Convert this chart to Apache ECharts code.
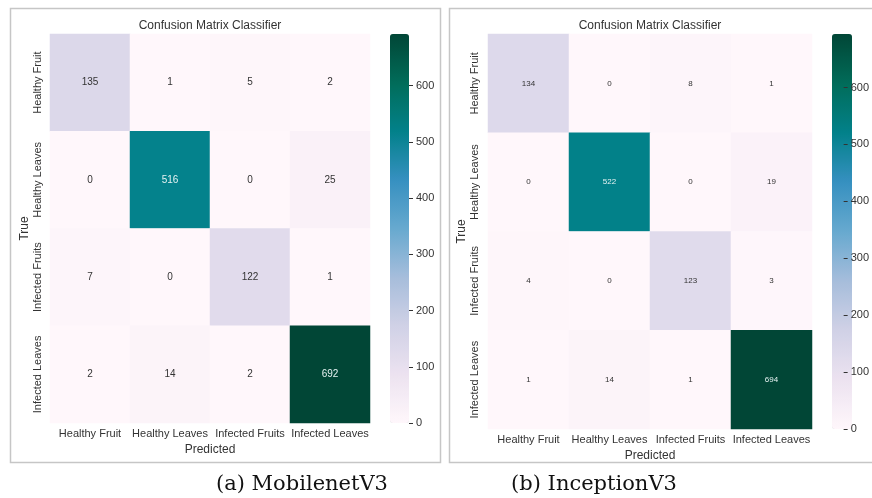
<!DOCTYPE html>
<html>
<head>
<meta charset="utf-8">
<script src="https://cdn.jsdelivr.net/npm/echarts@6/dist/echarts.min.js"></script>
<style>
html,body{margin:0;padding:0;background:#fff;}
#chart{width:872px;height:498px;}
</style>
</head>
<body>
<div id="chart"></div>
<script>
// ---- data ----
var categories = ['Healthy Fruit', 'Healthy Leaves', 'Infected Fruits', 'Infected Leaves'];
// rows = true class, cols = predicted class
var mobilenetRow0 = [135, 1, 5, 2];
var mobilenetRow1 = [0, 516, 0, 25];
var mobilenetRow2 = [7, 0, 122, 1];
var mobilenetRow3 = [2, 14, 2, 692];
var inceptionRow0 = [134, 0, 8, 1];
var inceptionRow1 = [0, 522, 0, 19];
var inceptionRow2 = [4, 0, 123, 3];
var inceptionRow3 = [1, 14, 1, 694];
var colorbarTicks = [0, 100, 200, 300, 400, 500, 600];
var panelTitle = 'Confusion Matrix Classifier';
var captions = ['(a) MobilenetV3', '(b) InceptionV3'];

var mobilenet = [mobilenetRow0, mobilenetRow1, mobilenetRow2, mobilenetRow3];
var inception = [inceptionRow0, inceptionRow1, inceptionRow2, inceptionRow3];

var PuBuGn = ['#fff7fb','#ece2f0','#d0d1e6','#a6bddb','#67a9cf','#3690c0','#02818a','#016c59','#014636'];
var FONT = 'Liberation Sans';
var TXT = '#333333';

function maxOf(m){ var v = 0; m.forEach(function(r){ r.forEach(function(x){ if (x > v) v = x; }); }); return v; }

function toData(m, mx){
  var out = [];
  for (var r = 0; r < m.length; r++) {
    for (var c = 0; c < m[r].length; c++) {
      var v = m[r][c];
      out.push({ value: [c, r, v], label: { color: v / mx > 0.6 ? '#e6f2f2' : '#333333' } });
    }
  }
  return out;
}

var mxA = maxOf(mobilenet), mxB = maxOf(inception);

var panels = [
  { grid: {left: 50, top: 34, width: 320, height: 389}, cb: {left: 390, top: 34, width: 19, height: 389},
    mx: mxA, data: toData(mobilenet, mxA), fs: 10, yLabelMargin: 7, yNameGap: 19, xNameGap: 18 },
  { grid: {left: 488, top: 34, width: 324, height: 395}, cb: {left: 832, top: 34, width: 20, height: 395},
    mx: mxB, data: toData(inception, mxB), fs: 8, yLabelMargin: 8, yNameGap: 17, xNameGap: 16 }
];

var option = {
  backgroundColor: '#ffffff',
  animation: false,
  textStyle: { fontFamily: FONT },
  grid: [], xAxis: [], yAxis: [], series: [], visualMap: [], graphic: []
};

panels.forEach(function(p, i){
  var gi = i * 2;
  option.grid.push(Object.assign({ containLabel: false }, p.grid));
  option.grid.push(Object.assign({ containLabel: false, show: false }, p.cb));
  // heatmap axes
  option.xAxis.push({
    type: 'category', data: categories, gridIndex: gi, position: 'bottom',
    axisLine: {show: false}, axisTick: {show: false}, splitLine: {show: false}, splitArea: {show: false},
    axisLabel: { color: TXT, fontSize: 11, fontFamily: FONT, margin: 5, interval: 0 },
    name: 'Predicted', nameLocation: 'middle', nameGap: p.xNameGap,
    nameTextStyle: { color: TXT, fontSize: 12, fontFamily: FONT }
  });
  option.yAxis.push({
    type: 'category', data: categories, gridIndex: gi, inverse: true,
    axisLine: {show: false}, axisTick: {show: false}, splitLine: {show: false}, splitArea: {show: false},
    axisLabel: { color: TXT, fontSize: 11, fontFamily: FONT, margin: p.yLabelMargin, rotate: 90, interval: 0 },
    name: 'True', nameLocation: 'middle', nameGap: p.yNameGap, nameRotate: 90,
    nameTextStyle: { color: TXT, fontSize: 12, fontFamily: FONT }
  });
  // colorbar axes
  option.xAxis.push({ type: 'value', gridIndex: gi + 1, show: false, min: 0, max: 1 });
  option.yAxis.push({
    type: 'value', gridIndex: gi + 1, position: 'right', min: 0, max: p.mx, z: 20,
    axisLine: {show: false, onZero: false}, splitLine: {show: false},
    axisTick: { show: true, inside: false, length: 4, lineStyle: {color: TXT, width: 1}, customValues: colorbarTicks },
    axisLabel: { color: TXT, fontSize: 11, fontFamily: FONT, margin: 7, customValues: colorbarTicks }
  });
  option.series.push({
    type: 'heatmap', xAxisIndex: gi, yAxisIndex: gi, data: p.data,
    itemStyle: { borderWidth: 0 },
    label: { show: true, fontSize: p.fs, fontFamily: FONT, color: TXT },
    emphasis: { disabled: true }
  });
  option.visualMap.push({
    type: 'continuous', seriesIndex: i, min: 0, max: p.mx, calculable: false,
    orient: 'vertical', left: p.cb.left, top: p.cb.top, itemWidth: p.cb.width, itemHeight: p.cb.height,
    padding: 0, text: null, hoverLink: false, showLabel: false, z: 2,
    inRange: { color: PuBuGn }
  });
});

// frames
option.graphic.push({ type: 'rect', shape: {x: 10.5, y: 8.5, width: 430, height: 454},
  style: { fill: 'none', stroke: '#c6c6c6', lineWidth: 1.5 }, silent: true, z: 0 });
option.graphic.push({ type: 'rect', shape: {x: 449.5, y: 8.5, width: 440, height: 454},
  style: { fill: 'none', stroke: '#c6c6c6', lineWidth: 1.5 }, silent: true, z: 0 });
// titles
[210, 650].forEach(function(cx){
  option.graphic.push({ type: 'text', x: cx, y: 26, silent: true,
    style: { text: panelTitle, fill: TXT, font: '12px "Liberation Sans"', textAlign: 'center', textVerticalAlign: 'middle' } });
});
// captions
[[302, 485], [594, 485]].forEach(function(pt, i){
  option.graphic.push({ type: 'text', x: pt[0], y: pt[1], silent: true,
    style: { text: captions[i], fill: '#111111', font: '21px "DejaVu Serif"', textAlign: 'center', textVerticalAlign: 'middle' } });
});

var chart = echarts.init(document.getElementById('chart'), null, {renderer: 'canvas'});
chart.setOption(option);
</script>
</body>
</html>
